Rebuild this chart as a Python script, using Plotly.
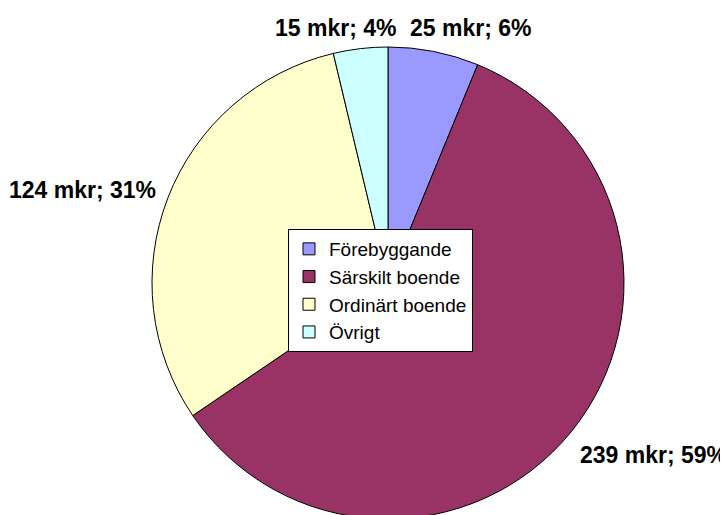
import plotly.graph_objects as go

categories = ["Förebyggande", "Särskilt boende", "Ordinärt boende", "Övrigt"]
values_mkr = [25, 239, 124, 15]
colors = ["#9999FF", "#993366", "#FFFFCC", "#CCFFFF"]

total = sum(values_mkr)
label_texts = [f"{v} mkr; {round(100 * v / total)}%" for v in values_mkr]

W, H = 728, 515
OFF = 8  # page body margin offset (pixels)

# label anchor positions (page pixels) in Excel-like placement
label_pos = [(470, 28), (653, 455), (82, 190), (335, 28)]

def fx(px):
    return (px - OFF) / W

def fy(py):
    return 1 - (py - OFF) / H

fig = go.Figure()
fig.add_trace(go.Pie(
    labels=categories,
    values=values_mkr,
    sort=False,
    direction="clockwise",
    rotation=0,
    marker=dict(colors=colors, line=dict(color="black", width=1)),
    textinfo="none",
    hoverinfo="label+value+percent",
    domain=dict(x=[fx(388 - 236), fx(388 + 236)], y=[fy(519), fy(47)]),
))

for txt, (px, py) in zip(label_texts, label_pos):
    fig.add_annotation(
        x=fx(px), y=fy(py), xref="paper", yref="paper",
        text=f"<b>{txt}</b>", showarrow=False,
        font=dict(family="Arial, Liberation Sans, sans-serif", size=23, color="black"),
        xanchor="center", yanchor="middle",
    )

fig.update_layout(
    width=W, height=H,
    margin=dict(l=0, r=0, t=0, b=0),
    paper_bgcolor="white",
    plot_bgcolor="white",
    font=dict(family="Arial, Liberation Sans, sans-serif", color="black"),
    showlegend=True,
    legend=dict(
        x=fx(288), y=fy(229), xanchor="left", yanchor="top",
        bgcolor="white", bordercolor="black", borderwidth=1,
        font=dict(size=19, color="black"),
        itemwidth=30,
        traceorder="normal",
    ),
)

fig.write_html("out.html")
